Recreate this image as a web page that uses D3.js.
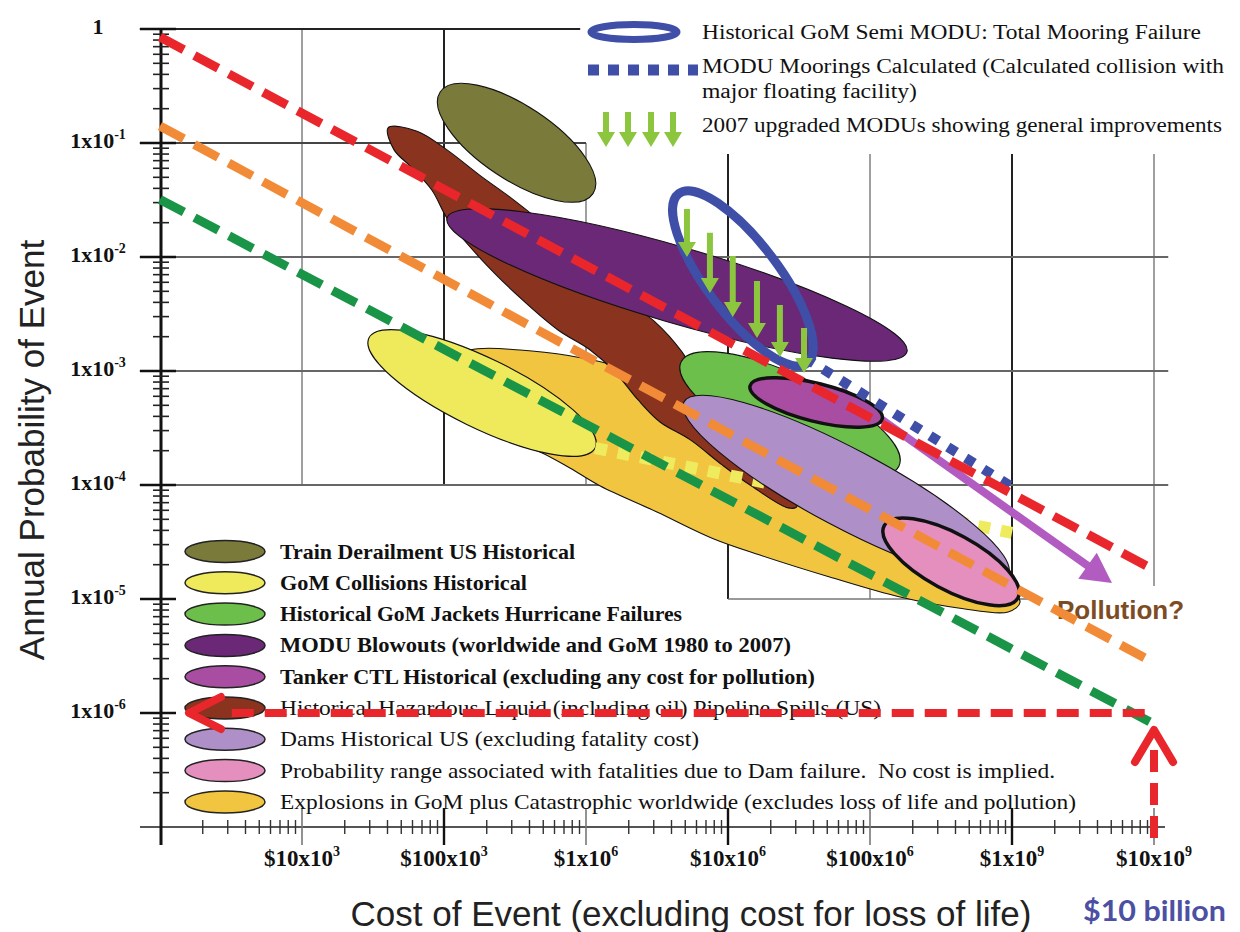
<!DOCTYPE html>
<html><head><meta charset="utf-8">
<script src="https://cdn.jsdelivr.net/npm/d3@7"></script>
<style>body{margin:0;background:#fff} svg{display:block}</style>
</head><body>
<svg id="c" width="1240" height="932"></svg>
<script>
// ---------------- DATA ----------------
const xTickValues = [1e4, 1e5, 1e6, 1e7, 1e8, 1e9, 1e10];
const xTickLabels = [["$10x10","3"],["$100x10","3"],["$1x10","6"],["$10x10","6"],["$100x10","6"],["$1x10","9"],["$10x10","9"]];
const yTickValues = [1, 1e-1, 1e-2, 1e-3, 1e-4, 1e-5, 1e-6];
const yTickLabels = [["1",""],["1x10","-1"],["1x10","-2"],["1x10","-3"],["1x10","-4"],["1x10","-5"],["1x10","-6"]];

const categories = [
  "Train Derailment US Historical",
  "GoM Collisions Historical",
  "Historical GoM Jackets Hurricane Failures",
  "MODU Blowouts (worldwide and GoM 1980 to 2007)",
  "Tanker CTL Historical (excluding any cost for pollution)",
  "Historical Hazardous Liquid (including oil) Pipeline Spills (US)",
  "Dams Historical US (excluding fatality cost)",
  "Probability range associated with fatalities due to Dam failure.  No cost is implied.",
  "Explosions in GoM plus Catastrophic worldwide (excludes loss of life and pollution)"
];
const categoryColors = ["#7a7a3b","#eeea5c","#6dbf4b","#6a2877","#a94da2","#8a331f","#ae8fc7","#e48fbe","#f2c540"];
const categoryBold = [true,true,true,true,true,false,false,false,false];

// ellipse-shaped regions: major-axis tips [cost, probability], half width in decades
const ellipseIndex = [0, 1, 2, 3, 4, 6, 7];
const ellipseTips = [
  [[9.4e4, 0.28],   [1.12e6, 0.036]],
  [[2.96e4, 1.95e-3],[1.16e6, 2.11e-4]],
  [[4.67e6, 1.20e-3],[1.60e8, 1.47e-4]],
  [[1.05e5, 0.022], [1.82e8, 1.47e-3]],
  [[1.43e7, 7.4e-4],[1.22e8, 3.8e-4]],
  [[4.9e6, 5.35e-4],[9.4e8, 1.65e-5]],
  [[1.26e8, 4.4e-5],[1.10e9, 1.02e-5]]
];
const ellipseHalfWidth = [0.26, 0.246, 0.268, 0.268, 0.134, 0.275, 0.197];

// free-form regions (cost, probability outlines)
const pipelineOutline = [[4.04e4,0.136],[6.46e4,0.127],[1.05e5,0.087],[1.79e5,0.052],[3.06e5,0.032],[5.4e5,0.018],
  [9.8e5,8.5e-3],[1.88e6,4.2e-3],[3.06e6,2.7e-3],[4.74e6,1.47e-3],[6.67e6,7.1e-4],[1.07e7,2.9e-4],[1.73e7,1.36e-4],
  [3.06e7,6.5e-5],[2.65e7,6.3e-5],[1.43e7,1.0e-4],[9.1e6,1.5e-4],[5.4e6,2.5e-4],[3.32e6,3.57e-4],[2.32e6,5.6e-4],
  [1.6e6,9.8e-4],[1.07e6,1.53e-3],[6.35e5,2.29e-3],[3.43e5,4.4e-3],[1.85e5,9.4e-3],[1.07e5,0.0211],[8.2e4,0.0387],
  [5.77e4,0.0628],[4.45e4,0.087]];
const explosionsOutline = [[8.65e4,1.06e-3],[1.52e5,1.53e-3],[3.43e5,1.53e-3],[7.7e5,1.36e-3],[1.6e6,1.11e-3],
  [3.06e6,7.5e-4],[6.35e6,5.0e-4],[1.68e7,2.5e-4],[5.2e7,1.11e-4],[1.63e8,4.9e-5],[4.3e8,2.43e-5],[8.2e8,1.47e-5],
  [1.14e9,9.4e-6],[9.4e8,7.7e-6],[4.3e8,8.3e-6],[1.63e8,1.04e-5],[5.2e7,1.56e-5],[1.68e7,2.43e-5],[7.8e6,3.4e-5],
  [3.16e6,5.8e-5],[1.26e6,9.8e-5],[7.7e5,1.41e-4],[4.74e5,1.95e-4],[2.48e5,2.58e-4],[1.3e5,4.4e-4]];

// mooring failure ring
const mooringRingTips = [[4.5e6, 0.036],[3.6e7, 1.17e-3]];
const mooringRingHalfWidth = 0.254;

// lines
const redLine = [[1e3, 0.85],[1e10, 1.8e-5]];
const orangeLine = [[1e3, 0.141],[1e10, 2.75e-6]];
const greenLine = [[1e3, 0.032],[1e10, 8e-7]];
const mooringsCalculated = [[3.5e7, 1.3e-3],[1.03e9, 9.4e-5]];
const collisionsCalculated = [[1.16e6, 2.11e-4],[1.0e9, 3.8e-5]];
const pollutionArrow = [[6.15e7, 6.8e-4],[5.06e9, 1.38e-5]];
const thresholdProb = 1e-6;
const thresholdCost = 1e10;
const thresholdArrowTipCost = 1.6e3;
const thresholdArrowTipProb = 7.1e-7;

// 2007 upgraded MODU arrows
const upgradeCost = [5.14e6, 7.46e6, 1.08e7, 1.60e7, 2.32e7, 3.43e7];
const upgradeFrom = [0.0264, 0.0163, 0.0102, 6.15e-3, 3.79e-3, 2.38e-3];
const upgradeTo   = [0.0100, 4.83e-3, 2.98e-3, 1.95e-3, 1.33e-3, 9.6e-4];

const topLegend = [
  "Historical GoM Semi MODU: Total Mooring Failure",
  "MODU Moorings Calculated (Calculated collision with",
  "major floating facility)",
  "2007 upgraded MODUs showing general improvements"
];

// ---------------- CHART ----------------
const SERIF = "'Liberation Serif','Times New Roman',serif";
const SANS = "'Liberation Sans',Arial,sans-serif";
const svg = d3.select("#c");
const x = d3.scaleLog().domain([1e3, 1e10]).range([160, 1154]);
const y = d3.scaleLog().domain([1e-7, 1]).range([827, 29]);
const dec = x(10) - x(1);
const RED = "#e8262b", BLUE = "#3f4fa8", LGREEN = "#8cc63f";

// grid
const grid = svg.append("g").attr("fill","none");
const vGrid = [
  {v:1e4, a:1, b:1e-4, dark:false},
  {v:1e5, a:1, b:1e-4, dark:true},
  {v:1e6, a:1e-1, b:1e-4, dark:false},
  {v:1e7, a:0.08, b:1e-5, dark:true},
  {v:1e8, a:0.08, b:1e-5, dark:false},
  {v:1e9, a:0.08, b:1e-5, dark:true},
  {v:1e10, a:0.08, b:1.3e-5, dark:false}
];
vGrid.forEach(g => grid.append("line").attr("x1",x(g.v)).attr("x2",x(g.v)).attr("y1",y(g.a)).attr("y2",y(g.b))
  .attr("stroke", g.dark ? "#222" : "#888").attr("stroke-width", g.dark ? 2 : 1.6));
const hGrid = [
  {v:1, a:7.2e2, b:9.1e5, c:"#222", w:2.2},
  {v:1e-1, a:7.2e2, b:1e6, c:"#444", w:2},
  {v:1e-2, a:7.2e2, b:1.26e10, c:"#666", w:2},
  {v:1e-3, a:7.2e2, b:1.26e10, c:"#666", w:2},
  {v:1e-4, a:7.2e2, b:1.26e10, c:"#666", w:2},
  {v:1e-5, a:1e7, b:1.48e9, c:"#777", w:1.6}
];
hGrid.forEach(g => grid.append("line").attr("x1",x(g.a)).attr("x2",x(g.b)).attr("y1",y(g.v)).attr("y2",y(g.v))
  .attr("stroke", g.c).attr("stroke-width", g.w));

// axes
const ax = svg.append("g");
ax.append("line").attr("x1",140).attr("x2",1165).attr("y1",y(1e-7)).attr("y2",y(1e-7)).attr("stroke","#555").attr("stroke-width",1.8);
ax.append("line").attr("x1",x(1e3)+1).attr("x2",x(1e3)+1).attr("y1",y(1)).attr("y2",845).attr("stroke","#111").attr("stroke-width",3);
const isPow = v => Math.abs(Math.log10(v) - Math.round(Math.log10(v))) < 1e-9;
y.ticks().filter(v => !isPow(v)).forEach(v => ax.append("line").attr("x1",153).attr("x2",169).attr("y1",y(v)).attr("y2",y(v)).attr("stroke","#222").attr("stroke-width",1.6));
yTickValues.forEach(v => ax.append("line").attr("x1",140).attr("x2",176).attr("y1",y(v)).attr("y2",y(v)).attr("stroke","#111").attr("stroke-width",2.4));
x.ticks().filter(v => !isPow(v)).forEach(v => ax.append("line").attr("x1",x(v)).attr("x2",x(v)).attr("y1",820).attr("y2",834).attr("stroke","#333").attr("stroke-width",1.4));
xTickValues.forEach((v,i) => ax.append("line").attr("x1",x(v)).attr("x2",x(v)).attr("y1",808).attr("y2",845).attr("stroke", i%2===0 ? "#777" : "#111").attr("stroke-width", i%2===0?1.6:2.4));

// tick labels
yTickValues.forEach((v,i) => {
  const t = ax.append("text").attr("x",98).attr("y",y(v)+5).attr("text-anchor","middle")
    .attr("font-family",SERIF).attr("font-weight","bold").attr("font-size",22).attr("fill","#111");
  t.append("tspan").text(yTickLabels[i][0]);
  if (yTickLabels[i][1]) t.append("tspan").attr("dy",-9).attr("font-size",14).text(yTickLabels[i][1]);
});
xTickValues.forEach((v,i) => {
  const t = ax.append("text").attr("x",x(v)).attr("y",866).attr("text-anchor","middle")
    .attr("font-family",SERIF).attr("font-weight","bold").attr("font-size",23).attr("fill","#111");
  t.append("tspan").text(xTickLabels[i][0]);
  t.append("tspan").attr("dy",-10).attr("font-size",14).text(xTickLabels[i][1]);
});

// axis titles
svg.append("text").attr("transform","translate(44,450) rotate(-90)").attr("text-anchor","middle")
  .attr("font-family",SANS).attr("font-size",35).attr("fill","#222").text("Annual Probability of Event");
svg.append("text").attr("x",691).attr("y",926).attr("text-anchor","middle")
  .attr("font-family",SANS).attr("font-size",35).attr("fill","#222").text("Cost of Event (excluding cost for loss of life)");
svg.append("text").attr("x",1083).attr("y",921).attr("font-family","Lato,'Open Sans',sans-serif").attr("font-weight","bold")
  .attr("font-size",28).attr("fill","#4d4fa3").attr("textLength",143).attr("lengthAdjust","spacingAndGlyphs").text("$10 billion");

// shapes
const shapes = svg.append("g");
const outlineLine = d3.line().x(d => x(d[0])).y(d => y(d[1])).curve(d3.curveCatmullRomClosed.alpha(0.5));
function ellipseGeom(tips, hw) {
  const x1 = x(tips[0][0]), y1 = y(tips[0][1]), x2 = x(tips[1][0]), y2 = y(tips[1][1]);
  return {cx:(x1+x2)/2, cy:(y1+y2)/2, rx:Math.hypot(x2-x1,y2-y1)/2, ry:hw*dec, ang:Math.atan2(y2-y1,x2-x1)*180/Math.PI};
}
function drawEllipse(k) {
  const ci = ellipseIndex[k];
  const g = ellipseGeom(ellipseTips[k], ellipseHalfWidth[k]);
  const thick = (ci === 4 || ci === 7);
  shapes.append("ellipse").attr("cx",g.cx).attr("cy",g.cy).attr("rx",g.rx).attr("ry",g.ry)
    .attr("transform",`rotate(${g.ang},${g.cx},${g.cy})`)
    .attr("fill",categoryColors[ci]).attr("stroke","#111").attr("stroke-width", thick ? 3.5 : 1.1);
}
function drawLine(pts, color, w, dash, parent) {
  (parent || shapes).append("line").attr("x1",x(pts[0][0])).attr("y1",y(pts[0][1])).attr("x2",x(pts[1][0])).attr("y2",y(pts[1][1]))
    .attr("stroke",color).attr("stroke-width",w).attr("stroke-dasharray",dash);
}
shapes.append("path").attr("d",outlineLine(explosionsOutline)).attr("fill",categoryColors[8]).attr("stroke","#111").attr("stroke-width",1.1);
shapes.append("path").attr("d",outlineLine(pipelineOutline)).attr("fill",categoryColors[5]).attr("stroke","#111").attr("stroke-width",1.1);
drawEllipse(1);
drawLine(collisionsCalculated, "#eeec5e", 12, "12 11");
drawEllipse(0);
drawEllipse(3);
drawEllipse(2);
drawEllipse(5);
drawEllipse(6);

// pollution arrow
(function(){
  const x1 = x(pollutionArrow[0][0]), y1 = y(pollutionArrow[0][1]), x2 = x(pollutionArrow[1][0]), y2 = y(pollutionArrow[1][1]);
  const L = Math.hypot(x2-x1,y2-y1), ux = (x2-x1)/L, uy = (y2-y1)/L, hl = 30, hw = 16;
  const bx = x2-ux*hl, by = y2-uy*hl;
  shapes.append("line").attr("x1",x1).attr("y1",y1).attr("x2",bx+ux*2).attr("y2",by+uy*2).attr("stroke","#b25cc1").attr("stroke-width",8);
  shapes.append("polygon").attr("points",[[x2,y2],[bx-uy*hw,by+ux*hw],[bx+uy*hw,by-ux*hw]].map(p=>p.join(",")).join(" ")).attr("fill","#b25cc1");
})();
drawEllipse(4);

// mooring ring
(function(){
  const g = ellipseGeom(mooringRingTips, mooringRingHalfWidth);
  shapes.append("ellipse").attr("cx",g.cx).attr("cy",g.cy).attr("rx",g.rx).attr("ry",g.ry)
    .attr("transform",`rotate(${g.ang},${g.cx},${g.cy})`).attr("fill","none").attr("stroke",BLUE).attr("stroke-width",9);
})();
drawLine(mooringsCalculated, BLUE, 10, "10 11");

// Pollution label
svg.append("text").attr("x",1057).attr("y",619).attr("font-family",SANS).attr("font-weight","bold").attr("font-size",26)
  .attr("fill","#7e4c22").text("Pollution?");

// legend bottom-left
const leg = svg.append("g");
const legW = [295, 247, 402, 511, 535, 601, 419, 775, 796];
categories.forEach((c,i) => {
  const cy = 551.5 + i*31.3;
  leg.append("ellipse").attr("cx",225).attr("cy",cy).attr("rx",40).attr("ry",11).attr("fill",categoryColors[i]).attr("stroke","#222").attr("stroke-width",1.5);
  leg.append("text").attr("x",280).attr("y",cy+7).attr("font-family",SERIF).attr("font-size",22)
    .attr("font-weight", categoryBold[i] ? "bold" : "normal").attr("fill","#111").style("white-space","pre")
    .attr("textLength",legW[i]).attr("lengthAdjust","spacingAndGlyphs").text(c);
});

// trend lines
drawLine(redLine, RED, 9, "27 12", svg);
drawLine(orangeLine, "#f28b38", 9, "27 12", svg);
drawLine(greenLine, "#1a9447", 9, "27 12", svg);

// upgrade arrows
function greenArrow(parent, cx, yTop, yTip) {
  const sw = 3, hw = 9, hl = 15;
  parent.append("polygon").attr("fill",LGREEN).attr("points",
    [[cx-sw,yTop],[cx+sw,yTop],[cx+sw,yTip-hl],[cx+hw,yTip-hl],[cx,yTip],[cx-hw,yTip-hl],[cx-sw,yTip-hl]].map(p=>p.join(",")).join(" "));
}
upgradeCost.forEach((c,i) => greenArrow(svg, x(c), y(upgradeFrom[i]), y(upgradeTo[i])));

// threshold ($10 billion / 1e-6)
const thr = svg.append("g").attr("stroke",RED).attr("fill","none");
thr.append("line").attr("x1",x(3.2e3)).attr("x2",x(thresholdCost)).attr("y1",y(thresholdProb)).attr("y2",y(thresholdProb))
  .attr("stroke-width",8).attr("stroke-dasharray","22 11");
const tx = x(thresholdArrowTipCost), ty = y(thresholdProb);
thr.append("polyline").attr("points",`${tx+32},${ty-16} ${tx},${ty} ${tx+32},${ty+16}`).attr("stroke-width",8).attr("stroke-linecap","round").attr("stroke-linejoin","round");
const vx = x(thresholdCost), vy = y(thresholdArrowTipProb);
thr.append("line").attr("x1",vx).attr("x2",vx).attr("y1",838).attr("y2",vy+10).attr("stroke-width",8).attr("stroke-dasharray","22 11");
thr.append("polyline").attr("points",`${vx-19},${vy+32} ${vx},${vy} ${vx+19},${vy+32}`).attr("stroke-width",8).attr("stroke-linecap","round").attr("stroke-linejoin","round");

// legend top-right
const tl = svg.append("g");
tl.append("ellipse").attr("cx",634).attr("cy",32).attr("rx",43).attr("ry",7.5).attr("fill","none").attr("stroke",BLUE).attr("stroke-width",7);
tl.append("line").attr("x1",588).attr("x2",698).attr("y1",70).attr("y2",70).attr("stroke",BLUE).attr("stroke-width",11).attr("stroke-dasharray","11 9");
[606,628,651,673].forEach(cx => greenArrow(tl, cx, 112, 147));
const tlY = [39, 73, 98, 132], tlW = [499, 522, 215, 520];
topLegend.forEach((t,i) => tl.append("text").attr("x",702).attr("y",tlY[i]).attr("font-family",SERIF).attr("font-size",20)
  .attr("fill","#111").attr("textLength",tlW[i]).attr("lengthAdjust","spacingAndGlyphs").text(t));
</script></body></html>
